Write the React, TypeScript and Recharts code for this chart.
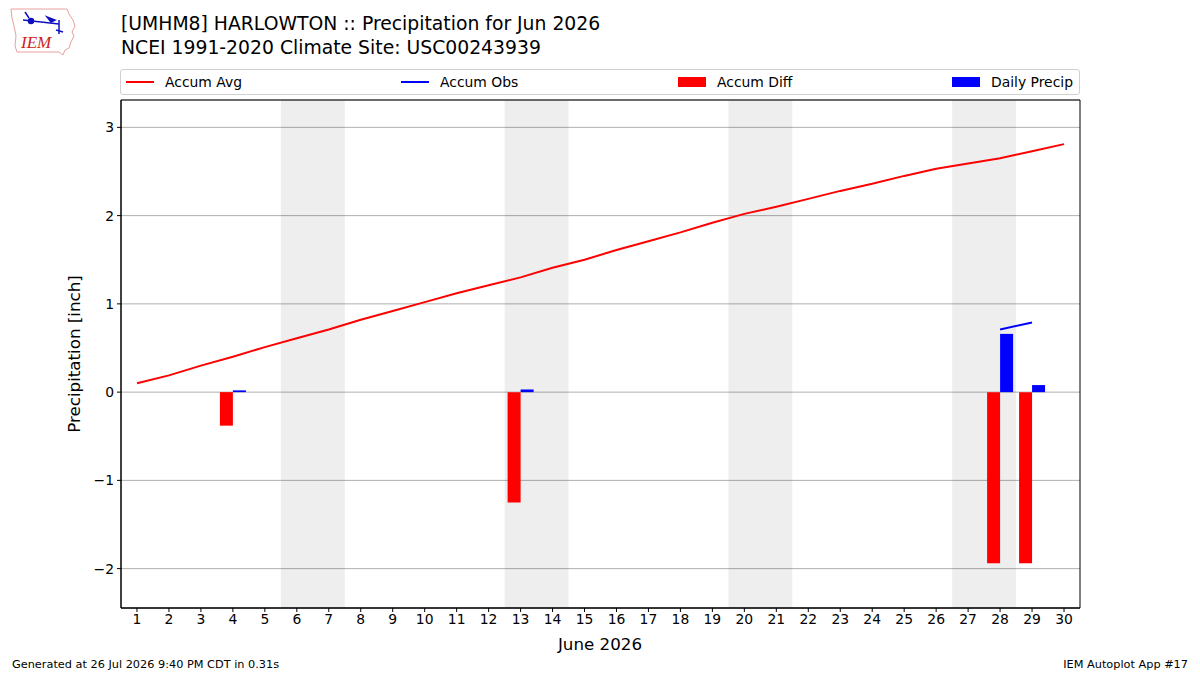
import React from 'react';
import {
  ComposedChart,
  Line,
  Bar,
  XAxis,
  YAxis,
  CartesianGrid,
  ReferenceArea,
} from 'recharts';

const days = [1, 2, 3, 4, 5, 6, 7, 8, 9, 10, 11, 12, 13, 14, 15, 16, 17, 18, 19, 20, 21, 22, 23, 24, 25, 26, 27, 28, 29, 30];
const accumAvg = [0.1, 0.19, 0.3, 0.4, 0.51, 0.61, 0.71, 0.82, 0.92, 1.02, 1.12, 1.21, 1.3, 1.41, 1.5, 1.61, 1.71, 1.81, 1.92, 2.02, 2.1, 2.19, 2.28, 2.36, 2.45, 2.53, 2.59, 2.65, 2.73, 2.81];
const accumObs: (number | null)[] = [null, null, null, 0.02, null, null, null, null, null, null, null, null, 0.05, null, null, null, null, null, null, null, null, null, null, null, null, null, null, 0.71, 0.79, null];
const accumDiff: (number | null)[] = [null, null, null, -0.38, null, null, null, null, null, null, null, null, -1.25, null, null, null, null, null, null, null, null, null, null, null, null, null, null, -1.94, -1.94, null];
const dailyPrecip: (number | null)[] = [null, null, null, 0.02, null, null, null, null, null, null, null, null, 0.03, null, null, null, null, null, null, null, null, null, null, null, null, null, null, 0.66, 0.08, null];
const weekendStarts = [6, 13, 20, 27];
const yTicks = [-2, -1, 0, 1, 2, 3];
const yDomain = [-2.446, 3.31];
const xDomain = [0.5, 30.5];

const data = days.map((d, i) => ({
  day: d,
  avg: accumAvg[i],
  obs: accumObs[i],
  diff: accumDiff[i],
  precip: dailyPrecip[i],
}));

const FONT = '"DejaVu Sans", sans-serif';

const fmt = (v: number) => String(v).replace('-', '\u2212');

const Logo = () => (
  <svg width={70} height={52} style={{ position: 'absolute', left: 9, top: 6 }} viewBox="0 0 70 52">
    <path
      d="M2 3 L58 3 L60 8 L64 14 L66 20 L63 26 L65 30 L62 36 L60 42 L56 44 L54 49 L50 46 L8 46 L6 40 L7 30 L5 20 L3 12 Z"
      fill="none"
      stroke="#e8a0a0"
      strokeWidth={1}
    />
    <g stroke="#1010c0" strokeWidth={1.5} fill="#1010c0">
      <line x1={14} y1={14} x2={50} y2={18} />
      <circle cx={22} cy={15} r={2.5} />
      <line x1={16} y1={6} x2={20} y2={12} />
      <path d="M38 11 L46 14 L42 16 Z" />
      <line x1={50} y1={14} x2={50} y2={28} />
      <line x1={47} y1={24} x2={54} y2={26} />
    </g>
    <text x={12} y={42} fill="#d02020" fontFamily="'Liberation Serif', serif" fontStyle="italic" fontSize={17}>
      IEM
    </text>
  </svg>
);

const LegendItem = ({ left, color, kind, label }: { left: number; color: string; kind: 'line' | 'rect'; label: string }) => (
  <div style={{ position: 'absolute', left, top: 0, height: 24, display: 'flex', alignItems: 'center' }}>
    {kind === 'line' ? (
      <div style={{ width: 28, height: 2, background: color }} />
    ) : (
      <div style={{ width: 28, height: 10, background: color }} />
    )}
    <span style={{ marginLeft: 11, fontSize: 13.9, color: '#000' }}>{label}</span>
  </div>
);

export default function App() {
  return (
    <div
      style={{
        position: 'absolute',
        left: 0,
        top: 0,
        width: 1200,
        height: 675,
        background: '#fff',
        fontFamily: FONT,
        overflow: 'hidden',
      }}
    >
      <Logo />
      <div style={{ position: 'absolute', left: 121, top: 12, fontSize: 18.8, lineHeight: '24px', color: '#000', whiteSpace: 'nowrap' }}>
        <div>[UMHM8] HARLOWTON :: Precipitation for Jun 2026</div>
        <div>NCEI 1991-2020 Climate Site: USC00243939</div>
      </div>

      <div
        style={{
          position: 'absolute',
          left: 120,
          top: 69,
          width: 958,
          height: 24,
          border: '1px solid #d0d0d0',
          borderRadius: 3,
        }}
      >
        <LegendItem left={5} color="#ff0000" kind="line" label="Accum Avg" />
        <LegendItem left={280} color="#0000ff" kind="line" label="Accum Obs" />
        <LegendItem left={557} color="#ff0000" kind="rect" label="Accum Diff" />
        <LegendItem left={831} color="#0000ff" kind="rect" label="Daily Precip" />
      </div>

      <div style={{ position: 'absolute', left: 0, top: 0 }}>
        <ComposedChart
          width={1200}
          height={675}
          data={data}
          margin={{ top: 100, right: 120, bottom: 37, left: 0 }}
          barGap={0}
        >
          <CartesianGrid horizontal={true} vertical={false} stroke="#b0b0b0" strokeWidth={1} />
          {weekendStarts.map((s) => (
            <ReferenceArea
              key={s}
              x1={s - 0.5}
              x2={s + 1.5}
              y1={yDomain[0]}
              y2={yDomain[1]}
              fill="#000"
              fillOpacity={0.067}
              stroke="none"
              ifOverflow="hidden"
            />
          ))}
          <XAxis
            dataKey="day"
            type="number"
            domain={xDomain}
            ticks={days}
            interval={0}
            allowDataOverflow
            height={30}
            tickSize={4}
            tickMargin={2}
            stroke="#000"
            tick={{ fill: '#000', fontSize: 13.9, fontFamily: FONT }}
            axisLine={{ stroke: '#000', strokeWidth: 1 }}
            tickLine={{ stroke: '#000' }}
          />
          <YAxis
            type="number"
            domain={yDomain}
            ticks={yTicks}
            allowDataOverflow
            width={121}
            tickSize={4}
            tickMargin={3}
            tickFormatter={fmt}
            tick={{ fill: '#000', fontSize: 13.9, fontFamily: FONT }}
            axisLine={{ stroke: '#000', strokeWidth: 1 }}
            tickLine={{ stroke: '#000' }}
          />
          <Bar dataKey="diff" fill="#ff0000" barSize={13} isAnimationActive={false} />
          <Bar dataKey="precip" fill="#0000ff" barSize={13} isAnimationActive={false} />
          <Line
            dataKey="avg"
            stroke="#ff0000"
            strokeWidth={2}
            dot={false}
            activeDot={false}
            type="linear"
            isAnimationActive={false}
          />
          <Line
            dataKey="obs"
            stroke="#0000ff"
            strokeWidth={2}
            dot={false}
            activeDot={false}
            type="linear"
            connectNulls={false}
            isAnimationActive={false}
          />
          <ReferenceArea
            x1={xDomain[0]}
            x2={xDomain[1]}
            y1={yDomain[0]}
            y2={yDomain[1]}
            fill="none"
            stroke="#000"
            strokeWidth={1}
            ifOverflow="visible"
          />
        </ComposedChart>
      </div>

      <div
        style={{
          position: 'absolute',
          left: 74,
          top: 354,
          transform: 'translate(-50%, -50%) rotate(-90deg)',
          fontSize: 16.7,
          whiteSpace: 'nowrap',
          color: '#000',
        }}
      >
        Precipitation [inch]
      </div>
      <div
        style={{
          position: 'absolute',
          left: 600,
          top: 644,
          transform: 'translate(-50%, -50%)',
          fontSize: 16.7,
          whiteSpace: 'nowrap',
          color: '#000',
        }}
      >
        June 2026
      </div>
      <div style={{ position: 'absolute', left: 12, top: 658, fontSize: 11.3, color: '#000', whiteSpace: 'nowrap' }}>
        Generated at 26 Jul 2026 9:40 PM CDT in 0.31s
      </div>
      <div style={{ position: 'absolute', right: 12, top: 658, fontSize: 11.3, color: '#000', whiteSpace: 'nowrap' }}>
        IEM Autoplot App #17
      </div>
    </div>
  );
}
